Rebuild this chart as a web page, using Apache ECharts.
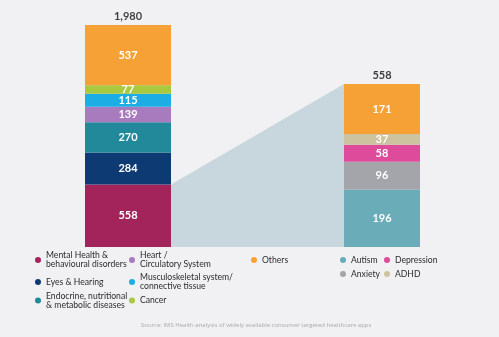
<!DOCTYPE html>
<html><head><meta charset="utf-8">
<script src="https://cdn.jsdelivr.net/npm/echarts@6/dist/echarts.min.js"></script>
<style>html,body{margin:0;padding:0;background:#f1f1f3}#c{width:499px;height:337px}</style>
</head><body><div id="c"></div>
<script>
// ---- data ----
const leftCategories = ['Mental Health & behavioural disorders', 'Eyes & Hearing', 'Endocrine, nutritional & metabolic diseases', 'Heart / Circulatory System', 'Musculoskeletal system/ connective tissue', 'Cancer', 'Others'];
const leftValues = [558, 284, 270, 139, 115, 77, 537];
const leftTotal = 1980;
const rightCategories = ['Autism', 'Anxiety', 'Depression', 'ADHD', 'Others'];
const rightValues = [196, 96, 58, 37, 171];
const rightTotal = 558;
const totalLabels = ['1,980', '558'];
const legendText = {
  'Mental Health & behavioural disorders': 'Mental Health &\nbehavioural disorders',
  'Eyes & Hearing': 'Eyes & Hearing',
  'Endocrine, nutritional & metabolic diseases': 'Endocrine, nutritional\n& metabolic diseases',
  'Heart / Circulatory System': 'Heart /\nCirculatory System',
  'Musculoskeletal system/ connective tissue': 'Musculoskeletal system/\nconnective tissue',
  'Cancer': 'Cancer', 'Others': 'Others', 'Autism': 'Autism', 'Anxiety': 'Anxiety', 'Depression': 'Depression', 'ADHD': 'ADHD'
};
const sourceText = 'Source: IMS Health analysis of widely available consumer targeted healthcare apps';

// ---- styles ----
const colors = {
  'Mental Health & behavioural disorders': '#a3235b',
  'Eyes & Hearing': '#0d3a72',
  'Endocrine, nutritional & metabolic diseases': '#21899a',
  'Heart / Circulatory System': '#a87bbe',
  'Musculoskeletal system/ connective tissue': '#1badE3',
  'Cancer': '#a9c93e',
  'Others': '#f6a136',
  'Autism': '#6bacb9',
  'Anxiety': '#a3a5aa',
  'Depression': '#de4b9b',
  'ADHD': '#cdc39f'
};
const FONT = 'Lato, "Open Sans", sans-serif';
const segLabel = { show: true, position: 'inside', color: '#fff', fontWeight: 'bold', fontSize: 11, fontFamily: FONT };

const series = [];
leftCategories.forEach((n, i) => series.push({
  type: 'bar', name: n, xAxisIndex: 0, yAxisIndex: 0, stack: 'L', data: [leftValues[i]],
  barWidth: '100%', itemStyle: { color: colors[n] }, label: segLabel, z: 3
}));
rightCategories.forEach((n, i) => series.push({
  type: 'bar', name: n, xAxisIndex: 1, yAxisIndex: 1, stack: 'R', data: [rightValues[i]],
  barWidth: '100%', itemStyle: { color: colors[n] }, label: segLabel, z: 3
}));
[leftTotal, rightTotal].forEach((t, i) => series.push({
  type: 'scatter', name: 'total' + i, xAxisIndex: i, yAxisIndex: i, data: [t], symbolSize: 0.01,
  label: { show: true, position: 'top', distance: 3, formatter: () => totalLabels[i], color: '#111', fontWeight: 'bold', fontSize: 11, fontFamily: FONT },
  silent: true, z: 4
}));

// legend layout: [name, markerLeft, firstLineCenterY]
const legendPos = [
  ['Mental Health & behavioural disorders', 35, 260],
  ['Eyes & Hearing', 35, 282],
  ['Endocrine, nutritional & metabolic diseases', 35, 300.5],
  ['Heart / Circulatory System', 129, 260],
  ['Musculoskeletal system/ connective tissue', 129, 282],
  ['Cancer', 129, 300.5],
  ['Others', 251, 260],
  ['Autism', 340, 260],
  ['Anxiety', 340, 274],
  ['Depression', 384, 260],
  ['ADHD', 384, 274]
];
const LH = 9;
const legends = legendPos.map(([n, x, y]) => {
  const L = legendText[n].split('\n').length;
  return {
    data: [n], left: x, top: y - (2 * L - 1) * LH / 2, padding: 0,
    icon: 'circle', itemWidth: 6, itemHeight: 6, itemGap: 0,
    formatter: () => legendText[n], selectedMode: false,
    textStyle: { fontSize: 8.6, lineHeight: LH, color: '#2c2c2c', fontFamily: FONT, padding: [(L - 1) * LH, 0, 0, 0] }
  };
});

const chart = echarts.init(document.getElementById('c'), null, { renderer: 'canvas' });
chart.setOption({
  backgroundColor: '#f1f1f3',
  animation: false,
  title: { text: sourceText, left: 141, top: 322, padding: 0, textStyle: { fontSize: 6, fontWeight: 'normal', color: '#a9a9ad', fontFamily: '"Open Sans", sans-serif' } },
  grid: [
    { left: 85, top: 25, width: 86, height: 222 },
    { left: 344, top: 84, width: 76, height: 163 }
  ],
  xAxis: [
    { type: 'category', gridIndex: 0, data: ['L'], show: false },
    { type: 'category', gridIndex: 1, data: ['R'], show: false }
  ],
  yAxis: [
    { type: 'value', gridIndex: 0, min: 0, max: leftTotal, show: false },
    { type: 'value', gridIndex: 1, min: 0, max: rightTotal, show: false }
  ],
  legend: legends,
  series: series
});

// connecting shaded polygon from left bar's first segment to right bar's full height
const model = chart.getModel();
const l0 = model.getSeriesByIndex(0).getData().getItemLayout(0);
const r0 = model.getSeriesByIndex(leftCategories.length).getData().getItemLayout(0);
const xL = Math.max(l0.x, l0.x + l0.width);
const xR = Math.min(r0.x, r0.x + r0.width);
const yL = chart.convertToPixel({ yAxisIndex: 0 }, leftValues[0]);
const yR = chart.convertToPixel({ yAxisIndex: 1 }, rightTotal);
const yB = chart.convertToPixel({ yAxisIndex: 0 }, 0);
chart.setOption({
  graphic: [{ type: 'polygon', z: 0, silent: true, shape: { points: [[xL, yL], [xR, yR], [xR, yB], [xL, yB]] }, style: { fill: '#c8d7de' } }]
});
</script></body></html>
